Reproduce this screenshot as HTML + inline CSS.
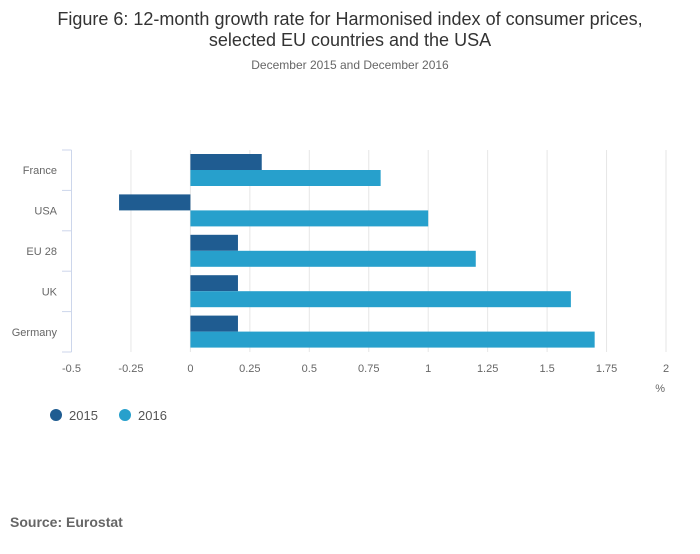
<!DOCTYPE html>
<html><head><meta charset="utf-8"><style>
body{margin:0;background:#fff;width:700px;height:549px;overflow:hidden;font-family:"Liberation Sans",sans-serif}
svg text{font-family:"Liberation Sans",sans-serif}
</style></head><body>
<svg id="chart" width="700" height="549">
<text x="350" y="25" text-anchor="middle" font-size="18" fill="#333">Figure 6: 12-month growth rate for Harmonised index of consumer prices,</text>
<text x="350" y="46" text-anchor="middle" font-size="18" fill="#333">selected EU countries and the USA</text>
<text x="350" y="69" text-anchor="middle" font-size="12" fill="#666">December 2015 and December 2016</text>
<g id="grid"></g><g id="bars"></g><g id="axes"></g>
<text x="665" y="392" text-anchor="end" font-size="11" fill="#666">%</text>
<g><circle cx="56" cy="415" r="6" fill="#1f5c91"/><text x="69" y="420" font-size="13" fill="#555">2015</text></g>
<g><circle cx="125" cy="415" r="6" fill="#27a0cc"/><text x="138" y="420" font-size="13" fill="#555">2016</text></g>
<text x="10" y="527" font-size="14" font-weight="bold" fill="#666">Source: Eurostat</text>
</svg>
<script>
const categories=["France","USA","EU 28","UK","Germany"];
const values2015=[0.3,-0.3,0.2,0.2,0.2];
const values2016=[0.8,1.0,1.2,1.6,1.7];
const ticks=[-0.5,-0.25,0,0.25,0.5,0.75,1,1.25,1.5,1.75,2];
const tickLabels=["-0.5","-0.25","0","0.25","0.5","0.75","1","1.25","1.5","1.75","2"];
const NS="http://www.w3.org/2000/svg";
const xScale=v=>71.5+(v+0.5)*237.8;
const plotTop=150,band=40.4;
function mk(tag,attrs,parent,txt){const e=document.createElementNS(NS,tag);for(const k in attrs)e.setAttribute(k,attrs[k]);if(txt!=null)e.textContent=txt;document.getElementById(parent).appendChild(e);return e;}
ticks.forEach((t,i)=>{
 if(i>0){const g=mk('line',{x1:xScale(t),x2:xScale(t),y1:plotTop,y2:plotTop+band*5,stroke:'#e6e6e6'},'grid');
 
 }
 const l=mk('text',{x:xScale(t),y:372,'text-anchor':'middle','font-size':11,fill:'#666'},'axes',tickLabels[i]);
 
 
});
const ax=mk('line',{x1:71.5,x2:71.5,y1:plotTop,y2:plotTop+band*5,stroke:'#ccd6eb'},'axes');


for(let i=0;i<=5;i++){const t=mk('line',{x1:62,x2:71.5,y1:plotTop+band*i,y2:plotTop+band*i,stroke:'#ccd6eb'},'axes');
 
 }
categories.forEach((c,i)=>{
 const y0=plotTop+band*i;
 const lb=mk('text',{x:57,y:y0+band/2+4,'text-anchor':'end','font-size':11,fill:'#666'},'axes',c);
 
 
 [[values2015[i],'#1f5c91',4],[values2016[i],'#27a0cc',20]].forEach(([v,col,off],k)=>{
  const a=Math.min(xScale(0),xScale(v)),w=Math.abs(xScale(v)-xScale(0));
  const r=mk('rect',{x:a,y:y0+off,width:w,height:16,fill:col},'bars');
  
  
 });
});
</script>
</body></html>
